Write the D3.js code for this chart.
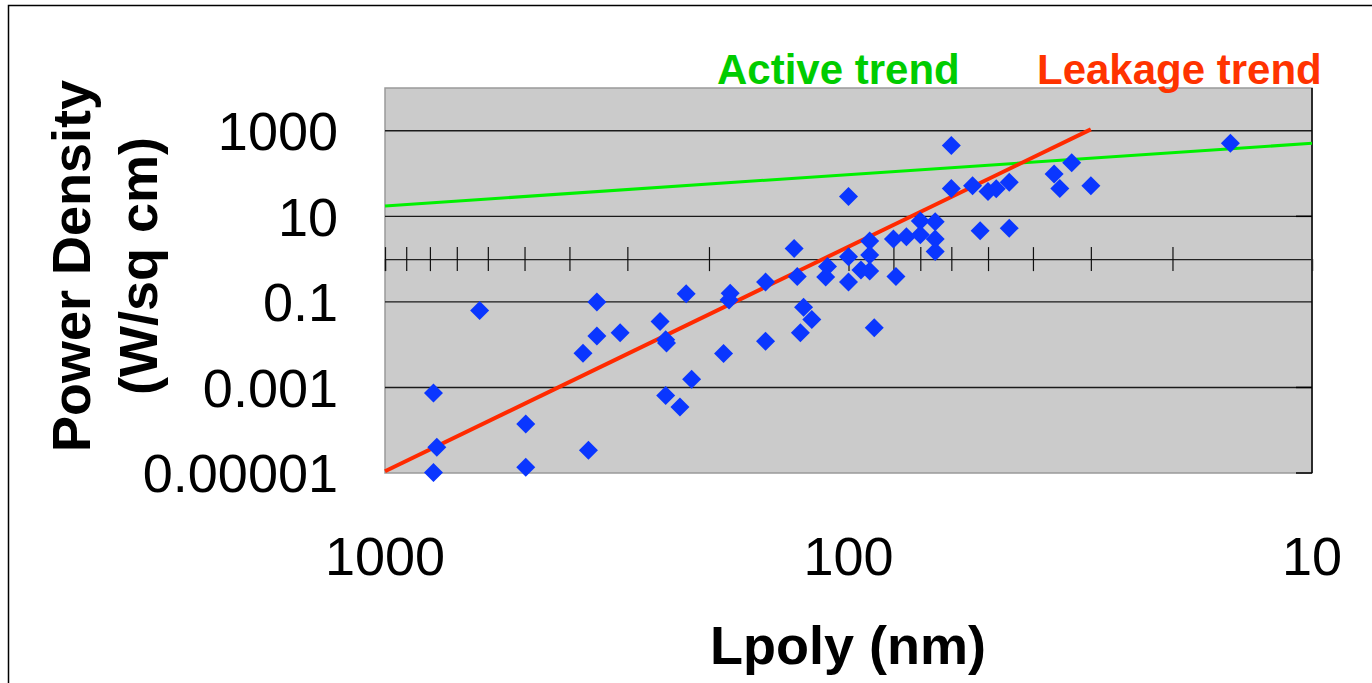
<!DOCTYPE html>
<html>
<head>
<meta charset="utf-8">
<script src="https://cdn.jsdelivr.net/npm/d3@7"></script>
<style>
	body { margin: 0; background: #ffffff; }
	svg { display: block; font-family: "Liberation Sans", Arial, sans-serif; }
</style>
</head>
<body>
<script>
// Lpoly (nm) of each device
var lpoly = [786, 773, 786, 625, 497, 497, 364, 374, 349, 349,
	311, 255, 248, 247, 224, 218, 248, 231, 186, 180,
	181, 151, 151, 129, 131, 125, 120, 127, 111, 112,
	100, 100, 100, 94, 90, 90, 90, 88, 80, 79,
	75, 70, 70, 65, 65, 65, 60, 60, 54, 52,
	50, 48, 45, 45, 36, 35, 33, 30, 15];

// Power density (W/sq cm) of each device
var power = [7.4e-4, 4.0e-5, 1.03e-5, 0.063, 1.4e-4, 1.37e-5, 3.4e-5, 6.3e-3, 0.1, 0.016,
	0.019, 0.035, 0.013, 0.011, 0.156, 1.56e-3, 6.5e-4, 3.5e-4, 6.2e-3, 0.16,
	0.11, 0.29, 0.012, 0.39, 1.78, 0.075, 0.039, 0.019, 0.67, 0.38,
	29, 1.14, 0.29, 0.56, 0.53, 2.66, 1.25, 0.025, 2.96, 0.39,
	3.35, 7.8, 3.7, 7.5, 2.96, 1.5, 450, 45, 52, 4.6,
	38, 44, 63, 5.3, 98, 45, 180, 52, 510];

// trend lines, as [Lpoly, power] end points
var activeTrend = [[1000, 17.5], [10, 510]];
var leakageTrend = [[1000, 1.1e-5], [30, 1080]];

var yTickValues = [1000, 10, 0.1, 0.001, 0.00001];
var yTickLabels = ["1000", "10", "0.1", "0.001", "0.00001"];
var xTickValues = [1000, 100, 10];
var xTickLabels = ["1000", "100", "10"];

var width = 1372,
	height = 683;

var plot = { left: 385, right: 1312, top: 88, bottom: 473 };

var svg = d3.select("body").append("svg")
	.attr("width", width)
	.attr("height", height);

// outer frame, runs off the right and bottom edges
svg.append("rect")
	.attr("x", 8.5).attr("y", 5.5)
	.attr("width", 1400).attr("height", 700)
	.attr("fill", "none")
	.attr("stroke", "#000")
	.attr("stroke-width", 1.5);

var x = d3.scaleLog().domain([1000, 10]).range([plot.left, plot.right]);
var y = d3.scaleLog().domain([1e-5, 1e4]).range([plot.bottom, plot.top]);

// plot area
svg.append("rect")
	.attr("x", plot.left).attr("y", plot.top)
	.attr("width", plot.right - plot.left)
	.attr("height", plot.bottom - plot.top)
	.attr("fill", "#cbcbcb")
	.attr("stroke", "#9a9a9a")
	.attr("stroke-width", 1.5);

// horizontal grid lines
svg.append("g").selectAll("line")
	.data([1000, 10, 0.1, 0.001])
	.enter().append("line")
	.attr("x1", plot.left).attr("x2", plot.right)
	.attr("y1", function(d) { return y(d); })
	.attr("y2", function(d) { return y(d); })
	.attr("stroke", "#1a1a1a")
	.attr("stroke-width", 1.4);

// right edge with its small inward ticks
svg.append("line")
	.attr("x1", plot.right).attr("x2", plot.right)
	.attr("y1", plot.top).attr("y2", plot.bottom)
	.attr("stroke", "#000").attr("stroke-width", 1.5);
svg.append("g").selectAll("line")
	.data([10, 0.001, 1e-5])
	.enter().append("line")
	.attr("x1", plot.right - 16).attr("x2", plot.right)
	.attr("y1", function(d) { return y(d); })
	.attr("y2", function(d) { return y(d); })
	.attr("stroke", "#000").attr("stroke-width", 1.5);

// x axis crossing at 1 W/sq cm, ticks both sides
var xAxis = d3.axisBottom(x)
	.tickValues(x.ticks().filter(function(d) { return d > 10; }))
	.tickSize(12)
	.tickFormat("");
var xAxisG = svg.append("g")
	.attr("transform", "translate(0," + y(1) + ")")
	.call(xAxis);
xAxisG.select(".domain").attr("stroke", "#222").attr("stroke-width", 1.4);
xAxisG.selectAll(".tick line")
	.attr("y1", -12)
	.attr("stroke", "#111")
	.attr("stroke-width", 1.2);

// trend lines
var line = d3.line()
	.x(function(d) { return x(d[0]); })
	.y(function(d) { return y(d[1]); });

svg.append("path")
	.datum(activeTrend)
	.attr("d", line)
	.attr("fill", "none")
	.attr("stroke", "#00f000")
	.attr("stroke-width", 3);

svg.append("path")
	.datum(leakageTrend)
	.attr("d", line)
	.attr("fill", "none")
	.attr("stroke", "#ff2a00")
	.attr("stroke-width", 4);

// data points as diamonds
svg.append("g").selectAll("path")
	.data(d3.range(lpoly.length))
	.enter().append("path")
	.attr("transform", function(i) { return "translate(" + x(lpoly[i]) + "," + y(power[i]) + ")"; })
	.attr("d", "M0,-9.5L9.5,0L0,9.5L-9.5,0Z")
	.attr("fill", "#0a36ff");

// y tick labels
svg.append("g").selectAll("text")
	.data(yTickValues)
	.enter().append("text")
	.attr("x", 338)
	.attr("y", function(d) { return y(d); })
	.attr("dy", "0.36em")
	.attr("text-anchor", "end")
	.style("font-size", "54px")
	.text(function(d, i) { return yTickLabels[i]; });

// x tick labels
svg.append("g").selectAll("text")
	.data(xTickValues)
	.enter().append("text")
	.attr("x", function(d) { return x(d); })
	.attr("y", 575)
	.attr("text-anchor", "middle")
	.style("font-size", "54px")
	.text(function(d, i) { return xTickLabels[i]; });

// axis titles
svg.append("text")
	.attr("x", 848).attr("y", 664)
	.attr("text-anchor", "middle")
	.style("font-size", "54px")
	.style("font-weight", "bold")
	.text("Lpoly (nm)");

var yTitle = svg.append("text")
	.attr("transform", "translate(90,266) rotate(-90)")
	.attr("text-anchor", "middle")
	.style("font-size", "54px")
	.style("font-weight", "bold");
yTitle.append("tspan").attr("x", 0).attr("y", 0).text("Power Density");
yTitle.append("tspan").attr("x", 0).attr("y", 67).text("(W/sq cm)");

// trend labels
svg.append("text")
	.attr("x", 717).attr("y", 84)
	.style("font-size", "42px")
	.style("font-weight", "bold")
	.attr("fill", "#00cc00")
	.text("Active trend");

svg.append("text")
	.attr("x", 1037).attr("y", 84)
	.style("font-size", "42px")
	.style("font-weight", "bold")
	.attr("fill", "#ff3300")
	.text("Leakage trend");
</script>
</body>
</html>
